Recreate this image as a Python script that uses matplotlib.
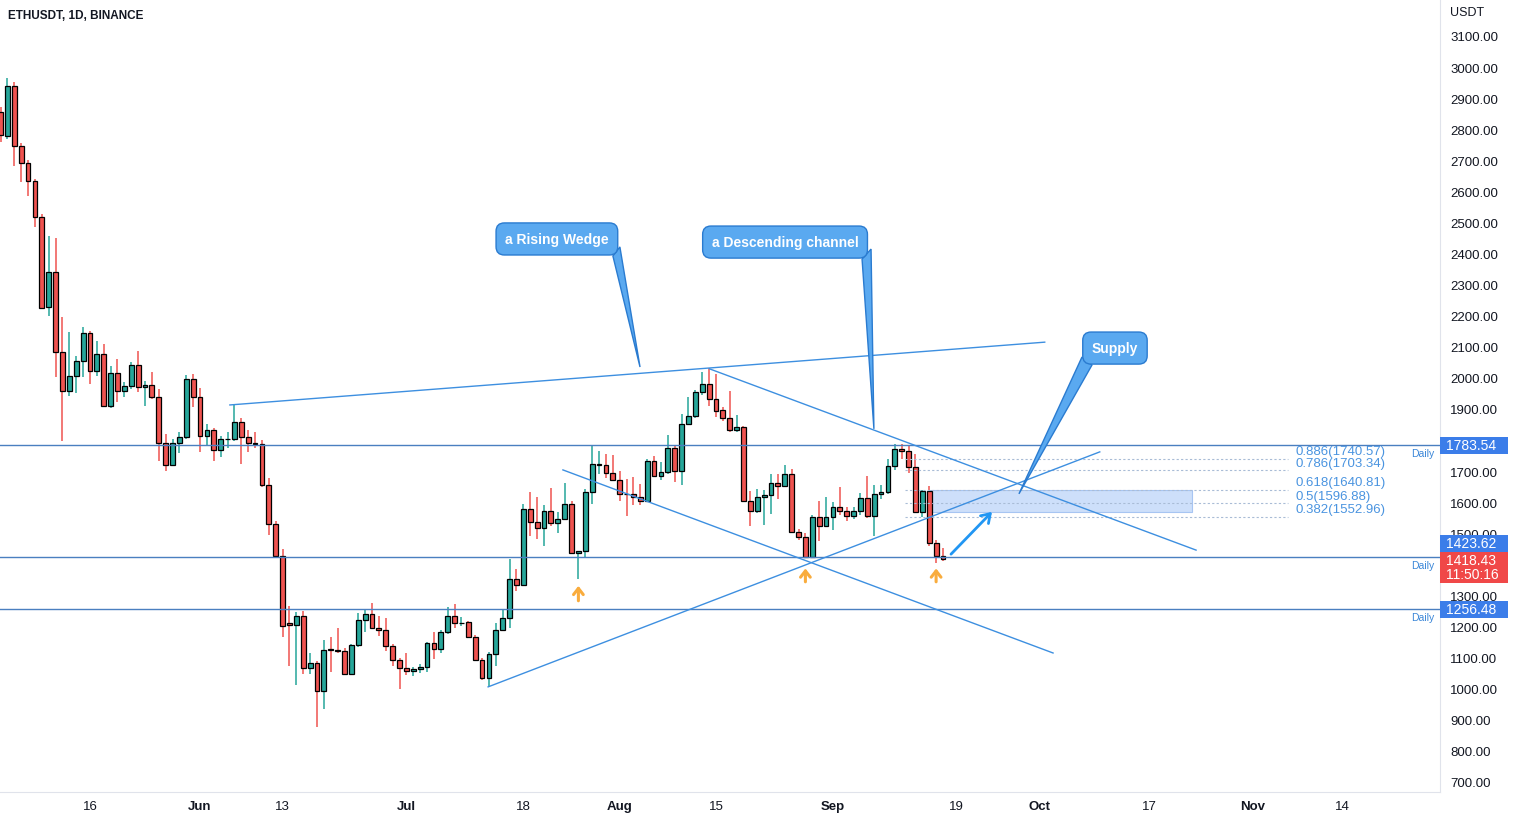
import numpy as np
import pandas as pd
import matplotlib
matplotlib.use("Agg")
import matplotlib.pyplot as plt
import matplotlib.dates as mdates
from matplotlib.patches import Rectangle, Polygon
from matplotlib.transforms import blended_transform_factory

plt.rcParams['font.family'] = ['Liberation Sans', 'DejaVu Sans']

# daily candles, 2022-05-03 .. 2022-09-17
dates = pd.date_range('2022-05-03', '2022-09-17', freq='D')

opens = [
    # May
    2855, 2779, 2938, 2745, 2690, 2633, 2517, 2227, 2340, 2083, 1957, 2005, 2056, 2145, 2021,
    2077, 1911, 2016, 1957, 1973, 2042, 1970, 1977, 1938, 1790, 1721, 1790, 1809, 1997,
    # Jun
    1938, 1814, 1832, 1769, 1803, 1803, 1857, 1809, 1790, 1787, 1657, 1530, 1428, 1210, 1205,
    1233, 1066, 1083, 992, 1127, 1125, 1121, 1047, 1141, 1221, 1240, 1195, 1188, 1139, 1094,
    # Jul
    1066, 1056, 1064, 1069, 1146, 1128, 1181, 1233, 1211, 1214, 1165, 1093, 1035, 1112, 1189,
    1227, 1353, 1335, 1578, 1538, 1516, 1571, 1532, 1546, 1594, 1436, 1444, 1632, 1721, 1719, 1693,
    # Aug
    1673, 1627, 1627, 1616, 1603, 1733, 1686, 1697, 1773, 1700, 1851, 1877, 1954, 1980, 1932,
    1897, 1872, 1831, 1843, 1605, 1571, 1616, 1623, 1661, 1651, 1690, 1503, 1487, 1423, 1551, 1522,
    # Sep
    1554, 1584, 1571, 1555, 1573, 1613, 1555, 1627, 1632, 1716, 1772, 1764, 1712, 1570, 1635,
    1469, 1428]
highs = [
    2870, 2964, 2953, 2756, 2702, 2640, 2527, 2458, 2450, 2195, 2147, 2072, 2165, 2150, 2120,
    2109, 2039, 2061, 1988, 2052, 2086, 1991, 2020, 1964, 1820, 1802, 1827, 2009, 2013,
    1967, 1852, 1840, 1814, 1827, 1916, 1870, 1834, 1827, 1800, 1677, 1541, 1450, 1267, 1246,
    1250, 1115, 1090, 1157, 1167, 1194, 1130, 1145, 1244, 1254, 1275, 1235, 1228, 1145, 1100,
    1115, 1070, 1080, 1150, 1181, 1190, 1262, 1273, 1230, 1218, 1173, 1098, 1117, 1211, 1257,
    1417, 1385, 1594, 1632, 1616, 1590, 1645, 1570, 1662, 1605, 1444, 1642, 1780, 1766, 1755, 1752,
    1700, 1675, 1680, 1660, 1740, 1748, 1730, 1816, 1782, 1884, 1938, 1960, 2018, 2031, 2013,
    1908, 1959, 1881, 1845, 1636, 1641, 1639, 1691, 1691, 1720, 1706, 1514, 1500, 1560, 1605, 1616,
    1600, 1648, 1585, 1585, 1630, 1686, 1655, 1655, 1740, 1787, 1788, 1780, 1755, 1640, 1653,
    1480, 1452]
lows = [
    2760, 2769, 2683, 2631, 2584, 2484, 2222, 2200, 2002, 1798, 1941, 1951, 2002, 1980, 2007,
    1910, 1902, 1922, 1938, 1964, 1954, 1911, 1932, 1734, 1702, 1721, 1757, 1802, 1905,
    1763, 1782, 1734, 1745, 1776, 1798, 1723, 1763, 1775, 1650, 1496, 1421, 1165, 1074, 1012,
    1047, 1047, 878, 935, 1053, 1115, 1045, 1045, 1135, 1181, 1192, 1171, 1123, 1072, 999,
    1045, 1040, 1050, 1055, 1095, 1115, 1175, 1195, 1203, 1162, 1088, 1029, 1005, 1074, 1185,
    1195, 1315, 1335, 1492, 1482, 1460, 1525, 1500, 1545, 1436, 1353, 1420, 1594, 1690, 1677, 1670,
    1605, 1557, 1590, 1590, 1600, 1680, 1670, 1690, 1664, 1655, 1848, 1870, 1946, 1910, 1873,
    1862, 1825, 1826, 1603, 1522, 1565, 1528, 1562, 1610, 1648, 1500, 1480, 1420, 1420, 1476, 1536,
    1512, 1560, 1540, 1545, 1560, 1548, 1490, 1610, 1628, 1705, 1739, 1695, 1565, 1552, 1460,
    1405, 1410]
closes = [
    2780, 2938, 2745, 2690, 2633, 2517, 2225, 2340, 2083, 1957, 2005, 2056, 2145, 2021, 2077,
    1911, 2016, 1957, 1973, 2042, 1970, 1977, 1938, 1790, 1721, 1790, 1809, 1997, 1938,
    1814, 1832, 1769, 1803, 1805, 1857, 1809, 1790, 1786, 1657, 1530, 1428, 1203, 1205, 1233,
    1066, 1083, 992, 1125, 1125, 1123, 1047, 1141, 1221, 1240, 1195, 1188, 1139, 1094, 1066,
    1056, 1064, 1071, 1146, 1128, 1181, 1233, 1211, 1213, 1165, 1093, 1035, 1112, 1189, 1227,
    1353, 1335, 1578, 1538, 1516, 1571, 1532, 1546, 1594, 1436, 1444, 1632, 1722, 1722, 1693, 1673,
    1627, 1625, 1616, 1603, 1733, 1686, 1697, 1773, 1700, 1851, 1877, 1954, 1980, 1932, 1895,
    1872, 1831, 1843, 1605, 1571, 1616, 1623, 1661, 1651, 1690, 1503, 1487, 1423, 1551, 1522, 1554,
    1584, 1571, 1555, 1573, 1613, 1555, 1627, 1632, 1716, 1772, 1764, 1712, 1570, 1635, 1469,
    1428, 1418.43]

# horizontal "Daily" levels
levels = [1783.54, 1423.62, 1256.48]
last_price = 1418.43
countdown = "11:50:16"

# fib retracement levels
fib_ratios = ["0.886", "0.786", "0.618", "0.5", "0.382"]
fib_prices = [1740.57, 1703.34, 1640.81, 1596.88, 1552.96]
fib_span = ("2022-09-11 12:00", "2022-11-06 05:00")

# supply zone
zone_span = ("2022-09-15 02:00", "2022-10-23 05:00")
zone_prices = (1568, 1640.81)

# trend lines: (start date, start price, end date, end price)
trend_lines = [
    ("2022-06-05 08:00", 1913, "2022-10-01 19:00", 2115),   # wedge top
    ("2022-07-12 21:00", 1006, "2022-10-09 19:00", 1762),   # wedge bottom
    ("2022-08-14 02:00", 2029, "2022-10-23 19:00", 1446),   # channel top
    ("2022-07-23 18:00", 1704, "2022-10-03 00:00", 1115),   # channel bottom
]

# callouts: text, box centre (date, price), tip (date, price)
callouts = [
    ("a Rising Wedge", ("2022-07-22 21:00", 2447), ("2022-08-03 23:00", 2035)),
    ("a Descending channel", ("2022-08-25 01:00", 2437), ("2022-09-06 23:00", 1836)),
    ("Supply", ("2022-10-12 00:00", 2096), ("2022-09-28 01:00", 1627)),
]
# tail base, pixel offsets from the box centre
tail_bases = [[(56, 17), (63, 8)], [(77, 17), (86, 7)], [(-33, 9), (-23, 17)]]

# orange "bounce" arrows (date, bottom, tip)
bounce_dates = ["2022-07-26", "2022-08-28", "2022-09-16"]
bounce_bottom = [1283, 1344, 1344]
bounce_tip = [1331, 1387, 1387]

# projected move arrow
move_arrow = (("2022-09-18 04:00", 1433), ("2022-09-24 03:00", 1569))

tick_dates = ["2022-05-16", "2022-06-01", "2022-06-13", "2022-07-01", "2022-07-18",
              "2022-08-01", "2022-08-15", "2022-09-01", "2022-09-19", "2022-10-01",
              "2022-10-17", "2022-11-01", "2022-11-14"]
tick_labels = ["16", "Jun", "13", "Jul", "18", "Aug", "15", "Sep", "19", "Oct", "17", "Nov", "14"]
month_labels = {"Jun", "Jul", "Aug", "Sep", "Oct", "Nov"}
price_ticks = np.arange(700, 3101, 100)
hidden_ticks = {1400}   # sits fully behind the last-price label

UP = '#26a69a'
DOWN = '#ef5350'
LINE = '#3d8fe0'
LEVEL = '#4a7fc0'
LABEL_BLUE = '#3b7de9'
CALL_FILL = '#5aa9f0'
CALL_EDGE = '#2a7bd0'
ORANGE = '#f9ac3d'

def dn(s):
    return mdates.date2num(pd.Timestamp(s))

x = mdates.date2num(dates)
o = np.array(opens, float)
h = np.array(highs, float)
l = np.array(lows, float)
c = np.array(closes, float)
up = c >= o
cols = np.where(up, UP, DOWN)

fig = plt.figure(figsize=(15.14, 8.2), dpi=100)
ax = fig.add_axes([0, 27 / 820, 1440 / 1514, 793 / 820])

x0 = dn("2022-05-16")
ax.set_xlim(x0 - 13.08, x0 + 196.25)
ax.set_ylim(667.8, 3219)
xr = ax.get_xlim()
yr = ax.get_ylim()
DAY_PX = 1440 / (xr[1] - xr[0])
PRICE_PX = (yr[1] - yr[0]) / 793

# candles
ax.vlines(x, l, h, colors=cols, lw=1.1, zorder=2)
ax.bar(x, np.maximum(np.abs(c - o), 0.5), bottom=np.minimum(o, c), width=0.7,
       color=cols, edgecolor='black', linewidth=0.9, zorder=3)

# horizontal levels
bt = blended_transform_factory(ax.transAxes, ax.transData)
for v in levels:
    ax.axhline(v, color=LEVEL, lw=1, zorder=4)
    ax.text(1434 / 1440, v - 8 * PRICE_PX, "Daily", transform=bt,
            ha='right', va='center', fontsize=7.5, color='#3a86d8', zorder=5)

# fib
ax.hlines(fib_prices, dn(fib_span[0]), dn(fib_span[1]), colors='#a9bcd6',
          linestyles=(0, (2, 2)), lw=0.8, zorder=4)
for r, p in zip(fib_ratios, fib_prices):
    ax.text(dn(fib_span[1]) + 1.0, p + 1.5 * PRICE_PX, f"{r}({p:.2f})", ha='left', va='bottom',
            fontsize=9.5, color='#4a94e0', zorder=5)

# supply zone
ax.add_patch(Rectangle((dn(zone_span[0]), zone_prices[0]), dn(zone_span[1]) - dn(zone_span[0]),
                       zone_prices[1] - zone_prices[0], fc='#cddffa', ec='#a7c5f2', lw=0.8, zorder=1))

# trend lines
for s0, p0, s1, p1 in trend_lines:
    ax.plot([dn(s0), dn(s1)], [p0, p1], color=LINE, lw=1, zorder=4)

# callouts
for (txt, (cd, cp), (td, tp)), base in zip(callouts, tail_bases):
    cx = dn(cd)
    pts = [(cx + bx / DAY_PX, cp - by * PRICE_PX) for bx, by in base] + [(dn(td), tp)]
    ax.add_patch(Polygon(pts, closed=True, fc=CALL_FILL, ec=CALL_EDGE, lw=1, zorder=6))
    ax.text(cx, cp, txt, ha='center', va='center', color='white', fontsize=10, fontweight='bold', zorder=7,
            bbox=dict(boxstyle='round,pad=0.65,rounding_size=0.6', fc=CALL_FILL, ec=CALL_EDGE, lw=1))

# bounce arrows
for d, b, t in zip(bounce_dates, bounce_bottom, bounce_tip):
    ax.annotate('', xy=(dn(d), t), xytext=(dn(d), b),
                arrowprops=dict(arrowstyle='->,head_length=0.45,head_width=0.35', color=ORANGE, lw=2.2,
                                shrinkA=0, shrinkB=0), zorder=6)

(sd, sp), (ed, ep) = move_arrow
ax.annotate('', xy=(dn(ed), ep), xytext=(dn(sd), sp),
            arrowprops=dict(arrowstyle='->,head_length=0.6,head_width=0.4', color='#2196f3', lw=2,
                            shrinkA=0, shrinkB=0), zorder=6)

# axes styling
for s in ['top', 'left']:
    ax.spines[s].set_visible(False)
for s in ['right', 'bottom']:
    ax.spines[s].set_color('#e0e3eb')
ax.yaxis.tick_right()
ax.set_yticks(price_ticks)
ax.set_yticklabels(["" if v in hidden_ticks else f"{v:.2f}" for v in price_ticks],
                   fontsize=9.5, color='#131722')
ax.tick_params(axis='y', length=0, pad=7.5)
ax.set_xticks([dn(t) for t in tick_dates])
ax.set_xticklabels(tick_labels, fontsize=9.5, color='#131722')
for lab in ax.get_xticklabels():
    if lab.get_text() in month_labels:
        lab.set_fontweight('bold')
ax.tick_params(axis='x', length=0, pad=6)

# price labels on the scale
box_w = 68 / 1440
label_boxes = [(levels[0], 0, LABEL_BLUE, f"{levels[0]:.2f}", 17),
               (levels[1], 14, LABEL_BLUE, f"{levels[1]:.2f}", 17),
               (last_price, -8.5, '#f04848', f"{last_price:.2f}\n{countdown}", 31),
               (levels[2], 0, LABEL_BLUE, f"{levels[2]:.2f}", 17)]
for v, off, col, txt, hpx in label_boxes:
    yc = v + off * PRICE_PX
    hh = hpx * PRICE_PX
    ax.add_patch(Rectangle((1.0, yc - hh / 2), box_w, hh, transform=bt, fc=col, ec='none',
                           clip_on=False, zorder=8))
    ax.text(1.0 + 6 / 1440, yc, txt, transform=bt, ha='left', va='center', fontsize=10,
            color='white', zorder=9, linespacing=1.05, clip_on=False)

fig.text(1450 / 1514, 1 - 13 / 820, "USDT", ha='left', va='center', fontsize=9, color='#131722')
fig.text(8 / 1514, 1 - 16 / 820, "ETHUSDT, 1D, BINANCE", ha='left', va='center', fontsize=8.5,
         fontweight='bold', color='#131722')

fig.savefig('out.png', dpi=100, facecolor='white')
